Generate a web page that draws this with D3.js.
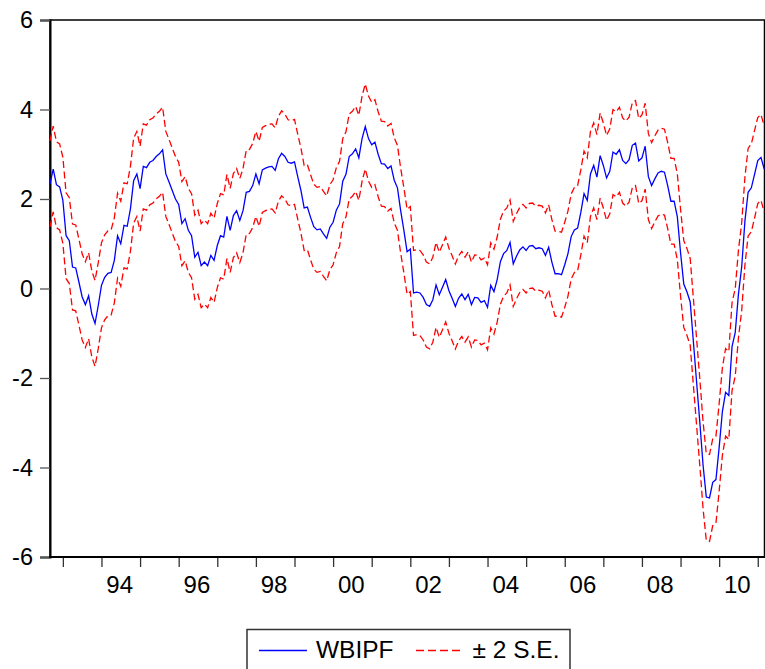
<!DOCTYPE html>
<html>
<head>
<meta charset="utf-8">
<script src="https://cdn.jsdelivr.net/npm/d3@7"></script>
<style>
  body { margin: 0; background: #fff; }
  svg { display: block; font-family: "Liberation Sans", Arial, sans-serif; }
</style>
</head>
<body>
<div id="chart"></div>
<script>
// monthly observations, 1992M09 .. 2011M03
var firstYear = 1992,
  firstMonth = 9;

var wbipf = [
  2.34, 2.67, 2.32, 2.27, 1.97, 1.18, 1.07, 0.48, 0.46, 0.14,
  -0.19, -0.36, -0.16, -0.57, -0.78, -0.38, 0.07, 0.25, 0.34, 0.36,
  0.63, 1.18, 1.00, 1.41, 1.39, 1.78, 2.41, 2.56, 2.23, 2.73,
  2.70, 2.82, 2.86, 2.95, 3.01, 3.10, 2.56, 2.38, 2.19, 2.00,
  1.88, 1.45, 1.56, 1.30, 1.18, 0.70, 0.81, 0.51, 0.59, 0.51,
  0.74, 0.63, 0.96, 1.18, 1.15, 1.61, 1.30, 1.63, 1.74, 1.52,
  1.74, 2.15, 2.17, 2.30, 2.56, 2.34, 2.65, 2.69, 2.72, 2.73,
  2.64, 2.90, 3.02, 2.95, 2.82, 2.80, 2.83, 2.50, 2.19, 1.80,
  1.82, 1.59, 1.38, 1.31, 1.33, 1.22, 1.12, 1.37, 1.48, 1.75,
  1.89, 2.40, 2.55, 2.95, 3.01, 3.12, 2.92, 3.35, 3.62, 3.35,
  3.21, 3.27, 3.00, 2.79, 2.78, 2.68, 2.74, 2.42, 2.25, 1.74,
  1.30, 0.82, 0.88, -0.10, -0.08, -0.10, -0.20, -0.36, -0.40, -0.25,
  0.08, -0.14, 0.03, 0.20, -0.05, -0.22, -0.40, -0.22, -0.12, -0.25,
  -0.13, -0.36, -0.20, -0.21, -0.31, -0.27, -0.42, 0.07, -0.07, 0.20,
  0.60, 0.78, 0.85, 1.03, 0.55, 0.72, 0.86, 0.93, 0.85, 0.95,
  0.96, 0.89, 0.91, 0.89, 0.74, 0.92, 0.59, 0.33, 0.33, 0.31,
  0.53, 0.78, 1.16, 1.31, 1.35, 1.70, 2.12, 1.97, 2.56, 2.75,
  2.49, 2.97, 2.75, 2.47, 2.62, 3.05, 3.00, 3.10, 2.86, 2.79,
  2.88, 3.20, 3.25, 2.85, 2.92, 3.18, 2.50, 2.30, 2.45, 2.58,
  2.62, 2.60, 2.30, 1.95, 1.95, 1.60, 0.80, 0.10, -0.08, -0.30,
  -1.20, -2.10, -3.00, -3.95, -4.66, -4.68, -4.33, -4.27, -3.55, -2.75,
  -2.32, -2.39, -1.30, -0.98, -0.12, 0.48, 1.50, 2.15, 2.25, 2.55,
  2.86, 2.93, 2.67
];

// half-width of the band (2 x S.E.), one value per calendar year 1992..2011
var twoSE = [0.96, 0.96, 0.95, 0.95, 0.94, 0.94, 0.95, 0.95, 0.95, 0.95,
  0.95, 0.95, 0.95, 0.95, 0.95, 0.95, 0.96, 0.97, 0.98, 0.96];

var tickYears = [1993, 1994, 1995, 1996, 1997, 1998, 1999, 2000, 2001, 2002,
  2003, 2004, 2005, 2006, 2007, 2008, 2009, 2010, 2011];
var labelYears = [1994, 1996, 1998, 2000, 2002, 2004, 2006, 2008, 2010];
var yTicks = [-6, -4, -2, 0, 2, 4, 6];
var legendNames = ['WBIPF', '\u00b1 2 S.E.'];

var Chart = function() {
  var width = 765,
    height = 669,
    plotLeft = 50,
    plotRight = 764.2,
    plotTop = 20,
    plotBottom = 557;

  var svg = d3.select('#chart')
    .append('svg')
    .attr('width', width)
    .attr('height', height);

  var yearIndex = function(year) {
    return (year - firstYear) * 12 - (firstMonth - 1);
  };

  var x = d3.scaleLinear()
    .domain([0, wbipf.length - 1])
    .range([plotLeft, plotRight]);

  var y = d3.scaleLinear()
    .domain([-6, 6])
    .range([plotBottom, plotTop]);

  var seAt = function(i) {
    return twoSE[Math.floor((i + firstMonth - 1) / 12)];
  };

  var upper = wbipf.map(function(v, i) { return v + seAt(i); });
  var lower = wbipf.map(function(v, i) { return v - seAt(i); });

  // frame
  svg.append('rect')
    .attr('x', plotLeft)
    .attr('y', plotTop)
    .attr('width', width - plotLeft - 0.5)
    .attr('height', plotBottom - plotTop)
    .attr('fill', 'none')
    .attr('stroke', '#000')
    .attr('stroke-width', 1.5);

  // y axis (plain hyphen for negatives, as in the original)
  var yAxis = svg.append('g')
    .attr('transform', 'translate(' + plotLeft + ',0)')
    .call(d3.axisLeft(y).tickValues(yTicks).tickSize(10).tickPadding(7)
      .tickFormat(function(d) { return String(d); }));
  yAxis.select('.domain').attr('stroke', '#000').attr('stroke-width', 2);
  yAxis.selectAll('.tick line').attr('stroke', '#555').attr('stroke-width', 1.3);
  yAxis.selectAll('.tick text')
    .attr('font-size', 23.5)
    .attr('fill', '#000')
    .attr('font-family', '"Liberation Sans", Arial, sans-serif');

  // x axis: year ticks
  var xAxis = svg.append('g')
    .attr('transform', 'translate(0,' + plotBottom + ')')
    .call(d3.axisBottom(x).tickValues(tickYears.map(yearIndex)).tickSize(10)
      .tickFormat(''));
  xAxis.select('.domain').remove();
  xAxis.selectAll('.tick line').attr('stroke', '#333').attr('stroke-width', 1.3);

  svg.append('line')
    .attr('x1', plotLeft - 1).attr('x2', width)
    .attr('y1', plotBottom).attr('y2', plotBottom)
    .attr('stroke', '#000')
    .attr('stroke-width', 2.2);

  // x axis: labels in the middle of the year
  var xLabels = svg.append('g')
    .attr('transform', 'translate(0,' + plotBottom + ')')
    .call(d3.axisBottom(x)
      .tickValues(labelYears.map(function(yr) { return yearIndex(yr) + 5.5; }))
      .tickSize(0).tickPadding(19)
      .tickFormat(function(d) {
        var yr = Math.round((d - 5.5 + firstMonth - 1) / 12) + firstYear;
        return String(yr % 100).padStart(2, '0');
      }));
  xLabels.select('.domain').remove();
  xLabels.selectAll('.tick text')
    .attr('font-size', 24)
    .attr('fill', '#000')
    .attr('font-family', '"Liberation Sans", Arial, sans-serif');

  // series
  var line = d3.line()
    .x(function(d, i) { return x(i); })
    .y(function(d) { return y(d); });

  svg.append('path')
    .datum(upper)
    .attr('d', line)
    .attr('fill', 'none')
    .attr('stroke', '#ff0000')
    .attr('stroke-width', 1.3)
    .attr('stroke-dasharray', '7,3.5');

  svg.append('path')
    .datum(lower)
    .attr('d', line)
    .attr('fill', 'none')
    .attr('stroke', '#ff0000')
    .attr('stroke-width', 1.3)
    .attr('stroke-dasharray', '7,3.5');

  svg.append('path')
    .datum(wbipf)
    .attr('d', line)
    .attr('fill', 'none')
    .attr('stroke', '#0000ff')
    .attr('stroke-width', 1.3);

  // legend
  var legend = svg.append('g');
  legend.append('rect')
    .attr('x', 247)
    .attr('y', 629.5)
    .attr('width', 323)
    .attr('height', 60)
    .attr('fill', '#fff')
    .attr('stroke', '#333')
    .attr('stroke-width', 1.5);

  legend.append('line')
    .attr('x1', 259).attr('x2', 307)
    .attr('y1', 650.5).attr('y2', 650.5)
    .attr('stroke', '#0000ff')
    .attr('stroke-width', 1.3);
  legend.append('text')
    .attr('x', 316)
    .attr('y', 658.3)
    .attr('font-size', 24.5)
    .text(legendNames[0]);

  legend.append('line')
    .attr('x1', 416).attr('x2', 464)
    .attr('y1', 650.5).attr('y2', 650.5)
    .attr('stroke', '#ff0000')
    .attr('stroke-width', 1.3)
    .attr('stroke-dasharray', '8,4');
  legend.append('text')
    .attr('x', 472.5)
    .attr('y', 658.3)
    .attr('font-size', 24.5)
    .text(legendNames[1]);
};

Chart();
</script>
</body>
</html>
